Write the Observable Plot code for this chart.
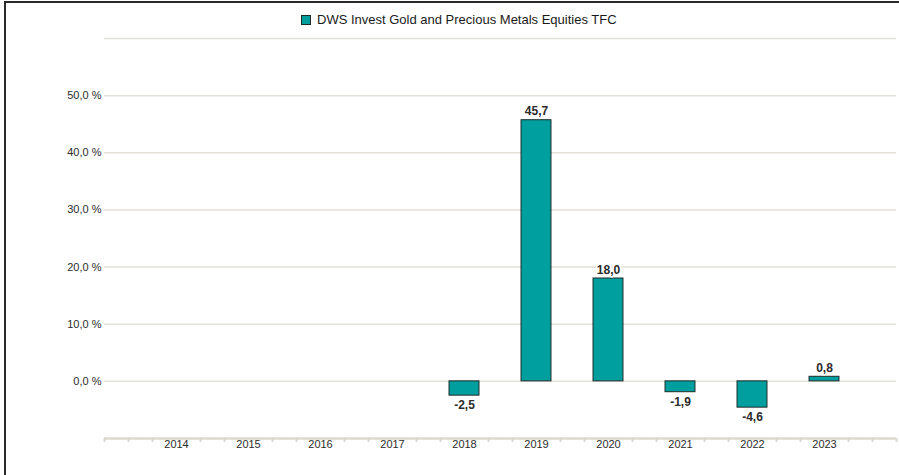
<!DOCTYPE html>
<html>
<head>
<meta charset="utf-8">
<script src="https://cdn.jsdelivr.net/npm/d3@7"></script>
<script src="https://cdn.jsdelivr.net/npm/@observablehq/plot@0.6"></script>
<style>
  html, body { margin: 0; padding: 0; background: #fff; overflow: hidden; }
  body { width: 899px; height: 475px; position: relative; font-family: "Liberation Sans", Arial, sans-serif; }
  #frame { position: absolute; left: 4px; top: 1px; width: 895px; height: 474px; border-left: 2px solid #2a2a2a; border-top: 2px solid #2a2a2a; box-sizing: border-box; background: transparent; z-index: 10; pointer-events: none; }
  #legend { position: absolute; left: 0; top: 0; width: 899px; height: 30px; }
  #legend .item { position: absolute; left: 301px; top: 12px; display: flex; align-items: center; font-size: 13px; color: #1a1a1a; white-space: nowrap; }
  #legend .sw { width: 8px; height: 8px; background: #009f9f; border: 1px solid #1e2b2b; margin-right: 6px; }
  #chart { position: absolute; left: 0; top: 30px; }
</style>
</head>
<body>
<div id="legend"><div class="item"><span class="sw"></span><span id="seriesName"></span></div></div>
<div id="chart"></div>
<div id="frame"></div>
<script>
const seriesName = "DWS Invest Gold and Precious Metals Equities TFC";
const years = [2014, 2015, 2016, 2017, 2018, 2019, 2020, 2021, 2022, 2023];
const dataYears = [2018, 2019, 2020, 2021, 2022, 2023];
const values = [-2.5, 45.7, 18.0, -1.9, -4.6, 0.8];
const yTicks = [0, 10, 20, 30, 40, 50];
const gridValues = [0, 10, 20, 30, 40, 50, 60];

document.getElementById("seriesName").textContent = seriesName;

const data = dataYears.map((y, i) => ({year: y, value: values[i]}));
const fmt = v => v.toFixed(1).replace(".", ",");
const halfBar = 0.208;

// minor ticks every third of a year, except where the year labels sit
const minorTicks = [];
for (let k = 0; k <= 33; k++) {
  if (k % 3 === 0 && k > 0 && k < 33) continue;
  minorTicks.push(2013 + k / 3);
}

const axisColor = "#dcd8ce";
const gridColor = "#e4e1d9";
const textColor = "#2b2b2b";

const plot = Plot.plot({
  width: 899,
  height: 445,
  marginLeft: 104,
  marginRight: 3,
  marginTop: 8,
  marginBottom: 37,
  style: {fontFamily: "Liberation Sans, Arial, sans-serif", fontSize: "11px", background: "transparent"},
  x: {type: "linear", domain: [2013, 2024], axis: null},
  y: {domain: [-10, 60], axis: null},
  marks: [
    Plot.ruleY(gridValues, {stroke: gridColor, strokeWidth: 1.5}),
    Plot.ruleY([-10], {stroke: axisColor, strokeWidth: 2.5}),
    Plot.axisX(minorTicks, {tickSize: 4, tickFormat: () => "", stroke: axisColor, strokeWidth: 2, label: null}),
    Plot.axisX(years, {tickSize: 0, tickPadding: 2, tickFormat: d => String(d), fill: textColor, fontSize: 11, label: null}),
    Plot.axisY(yTicks, {tickSize: 0, tickPadding: 3, tickFormat: d => fmt(d) + " %", fill: textColor, fontSize: 11, label: null}),
    Plot.rect(data, {
      x1: d => d.year - halfBar,
      x2: d => d.year + halfBar,
      y1: 0,
      y2: "value",
      fill: "#009f9f",
      stroke: "#1e2b2b",
      strokeWidth: 1
    }),
    Plot.text(data.filter(d => d.value >= 0), {
      x: "year", y: "value", text: d => fmt(d.value),
      lineAnchor: "bottom", dy: -5, fontSize: 12, fontWeight: "bold",
      fill: textColor, stroke: "white", strokeWidth: 3
    }),
    Plot.text(data.filter(d => d.value < 0), {
      x: "year", y: "value", text: d => fmt(d.value),
      lineAnchor: "top", dy: 5, fontSize: 12, fontWeight: "bold",
      fill: textColor, stroke: "white", strokeWidth: 3
    })
  ]
});
document.getElementById("chart").appendChild(plot);
</script>
</body>
</html>
